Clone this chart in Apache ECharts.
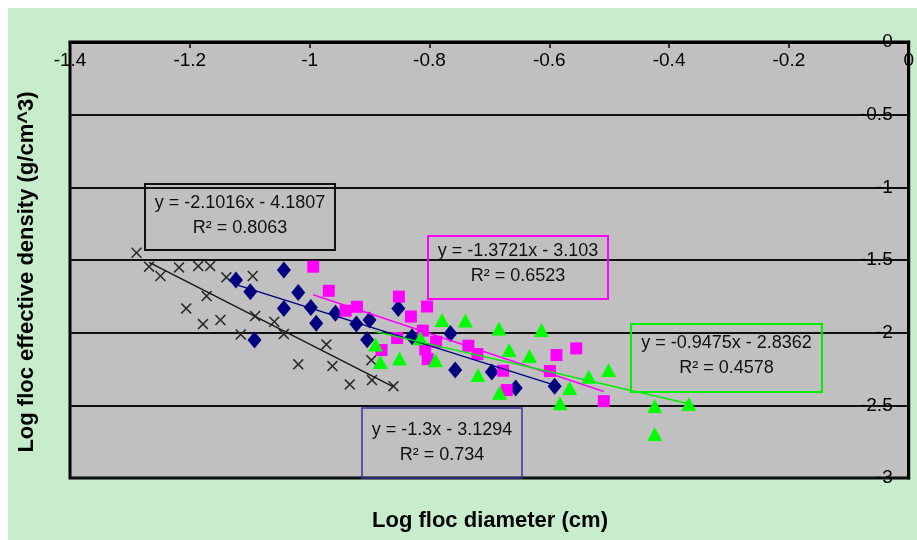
<!DOCTYPE html>
<html>
<head>
<meta charset="utf-8">
<script src="https://cdn.jsdelivr.net/npm/echarts@6/dist/echarts.min.js"></script>
<style>
html,body{margin:0;padding:0;background:#fff;}
#bg{position:absolute;left:8px;top:8px;width:909px;height:532px;background:#c8edcc;}
#chart{position:absolute;left:0;top:0;width:917px;height:540px;}
</style>
</head>
<body>
<div id="bg"></div>
<div id="chart"></div>
<script>
// points: [log diameter, log density]
const crossPts = [
  [-1.289,-1.450],[-1.268,-1.546],[-1.249,-1.610],[-1.218,-1.551],[-1.186,-1.542],
  [-1.166,-1.542],[-1.139,-1.619],[-1.095,-1.610],[-1.172,-1.748],[-1.206,-1.833],
  [-1.178,-1.941],[-1.149,-1.913],[-1.091,-1.886],[-1.059,-1.925],[-1.115,-2.012],
  [-1.043,-2.010],[-1.019,-2.218],[-0.972,-2.081],[-0.962,-2.230],[-0.897,-2.189],
  [-0.933,-2.356],[-0.896,-2.326],[-0.860,-2.368]
];
const diamondPts = [
  [-1.123,-1.638],[-1.099,-1.719],[-1.092,-2.051],[-1.043,-1.569],[-1.019,-1.723],
  [-1.043,-1.833],[-0.998,-1.826],[-0.989,-1.936],[-0.957,-1.867],[-0.922,-1.941],
  [-0.900,-1.913],[-0.904,-2.048],[-0.852,-1.833],[-0.829,-2.028],[-0.765,-2.005],
  [-0.757,-2.257],[-0.696,-2.271],[-0.656,-2.381],[-0.591,-2.368]
];
const squarePts = [
  [-0.994,-1.546],[-0.968,-1.712],[-0.940,-1.849],[-0.921,-1.822],[-0.851,-1.752],
  [-0.804,-1.820],[-0.831,-1.889],[-0.811,-1.986],[-0.854,-2.037],[-0.880,-2.120],
  [-0.789,-2.063],[-0.807,-2.115],[-0.803,-2.182],[-0.735,-2.090],[-0.720,-2.147],
  [-0.677,-2.262],[-0.671,-2.395],[-0.588,-2.154],[-0.599,-2.264],[-0.555,-2.108],
  [-0.509,-2.471]
];
const trianglePts = [
  [-0.890,-2.082],[-0.882,-2.202],[-0.850,-2.177],[-0.815,-2.039],[-0.790,-2.189],
  [-0.779,-1.913],[-0.740,-1.917],[-0.684,-1.972],[-0.613,-1.982],[-0.667,-2.120],
  [-0.633,-2.161],[-0.719,-2.292],[-0.683,-2.414],[-0.582,-2.485],[-0.566,-2.381],
  [-0.534,-2.303],[-0.501,-2.257],[-0.424,-2.505],[-0.367,-2.491],[-0.424,-2.698]
];

// trendlines as printed on the chart: slope, intercept, x range
const trendSlopes = [-2.1016, -1.3, -1.3721, -0.9475];
const trendIntercepts = [-4.1807, -3.1294, -3.103, -2.8362];
const trendFrom = [-1.268, -1.123, -0.994, -0.890];
const trendTo = [-0.860, -0.591, -0.509, -0.367];
const trendColors = ['#1a1a1a', '#000080', '#ff00ff', '#00ee00'];

const eqLines = ['y = -2.1016x - 4.1807', 'y = -1.3x - 3.1294', 'y = -1.3721x - 3.103', 'y = -0.9475x - 2.8362'];
const r2Lines = ['R² = 0.8063', 'R² = 0.734', 'R² = 0.6523', 'R² = 0.4578'];

const FONT = "'Liberation Sans', Arial, sans-serif";

const chart = echarts.init(document.getElementById('chart'));

const trendSeries = trendSlopes.map((m, i) => ({
  type: 'line',
  data: [[trendFrom[i], m * trendFrom[i] + trendIntercepts[i]], [trendTo[i], m * trendTo[i] + trendIntercepts[i]]],
  showSymbol: false,
  silent: true,
  z: 5,
  lineStyle: { color: trendColors[i], width: 1.5 }
}));

// equation boxes (pixel placement like the excel text boxes)
const boxes = [
  { x: 145, y: 184, w: 190, h: 66, stroke: '#111', lw: 2, l1: 203, l2: 228, i: 0 },
  { x: 362, y: 408, w: 160, h: 70, stroke: '#3333a0', lw: 1.5, l1: 430, l2: 455, i: 1 },
  { x: 428, y: 236, w: 180, h: 63, stroke: '#ff00ff', lw: 2, l1: 251, l2: 276, i: 2 },
  { x: 631, y: 324, w: 191, h: 68, stroke: '#00ee00', lw: 2, l1: 343, l2: 368, i: 3 }
];
const graphics = [];
boxes.forEach(b => {
  graphics.push({ type: 'rect', shape: { x: b.x, y: b.y, width: b.w, height: b.h },
    style: { fill: 'none', stroke: b.stroke, lineWidth: b.lw }, z: 10 });
  graphics.push({ type: 'text', x: b.x + b.w / 2, y: b.l1,
    style: { text: eqLines[b.i], font: '18px ' + FONT, fill: '#111', align: 'center', verticalAlign: 'middle' }, z: 11 });
  graphics.push({ type: 'text', x: b.x + b.w / 2, y: b.l2,
    style: { text: r2Lines[b.i], font: '18px ' + FONT, fill: '#111', align: 'center', verticalAlign: 'middle' }, z: 11 });
});
graphics.push({ type: 'text', x: 490, y: 521,
  style: { text: 'Log floc diameter (cm)', font: 'bold 22px ' + FONT, fill: '#000', align: 'center', verticalAlign: 'middle' } });
graphics.push({ type: 'text', x: 27, y: 272, rotation: Math.PI / 2,
  style: { text: 'Log floc effective density (g/cm^3)', font: 'bold 22px ' + FONT, fill: '#000', align: 'center', verticalAlign: 'middle' } });

chart.setOption({
  animation: false,
  grid: { left: 70, right: 5, top: 42, bottom: 62, show: true, backgroundColor: '#c0c0c0', borderColor: '#000', borderWidth: 3 },
  xAxis: {
    type: 'value', position: 'top', min: -1.4, max: 0, interval: 0.2,
    axisLine: { show: true, onZero: false, lineStyle: { color: '#000', width: 3 } },
    axisTick: { show: true, inside: true, length: 6, lineStyle: { color: '#000', width: 1.5 } },
    axisLabel: { inside: true, margin: 9, color: '#000', fontSize: 19, fontFamily: FONT },
    splitLine: { show: false }
  },
  yAxis: {
    type: 'value', position: 'right', min: -3, max: 0, interval: 0.5,
    axisLine: { show: true, onZero: false, lineStyle: { color: '#000', width: 3 } },
    axisTick: { show: false },
    axisLabel: { inside: true, margin: 16, color: '#000', fontSize: 19, fontFamily: FONT },
    splitLine: { show: true, lineStyle: { color: '#111', width: 2 } }
  },
  series: [
    { type: 'scatter', data: crossPts, z: 2,
      symbol: 'path://M1,0 L5,4 L9,0 L10,1 L6,5 L10,9 L9,10 L5,6 L1,10 L0,9 L4,5 L0,1 Z',
      symbolSize: 11, itemStyle: { color: '#2a2a2a', opacity: 1 } },
    { type: 'scatter', data: diamondPts, z: 2, symbol: 'diamond', symbolSize: [14, 17], itemStyle: { color: '#000080', opacity: 1 } },
    { type: 'scatter', data: squarePts, z: 2, symbol: 'rect', symbolSize: 12, itemStyle: { color: '#ff00ff', opacity: 1 } },
    { type: 'scatter', data: trianglePts, z: 2, symbol: 'triangle', symbolSize: [15, 14], itemStyle: { color: '#00ff00', opacity: 1 } }
  ].concat(trendSeries),
  graphic: graphics
});
</script>
</body>
</html>
